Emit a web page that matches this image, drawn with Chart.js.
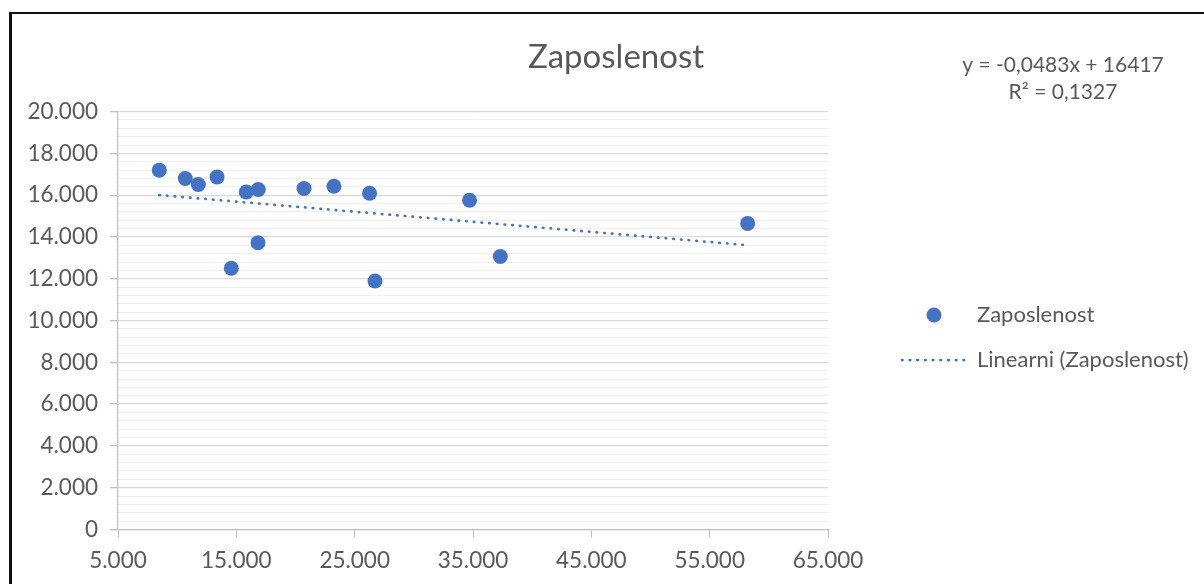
<!DOCTYPE html>
<html>
<head>
<meta charset="utf-8">
<script src="https://cdn.jsdelivr.net/npm/chart.js@4.4.1/dist/chart.umd.min.js"></script>
<style>
  html, body { margin: 0; padding: 0; background: #fff; overflow: hidden; }
  .frame {
    position: absolute; left: 9px; top: 12px;
    border-left: 3px solid #111; border-top: 2px solid #111;
    width: 1192px; height: 570px;
  }
  canvas { display: block; }
</style>
</head>
<body>
<div class="frame">
  <canvas id="myChart" width="1192" height="570"></canvas>
</div>
<script>
// podaci
const seriesName = 'Zaposlenost';
const trendName = 'Linearni (Zaposlenost)';
const xValues = [8490, 10690, 11790, 13370, 14575, 15840, 16860, 16830, 20720, 23250, 26260, 26720, 34710, 37310, 58210];
const yValues = [17197, 16798, 16510, 16875, 12500, 16154, 16269, 13721, 16317, 16428, 16091, 11894, 15755, 13063, 14649];
const xTicks = [5000, 15000, 25000, 35000, 45000, 55000, 65000];
const yTicks = [0, 2000, 4000, 6000, 8000, 10000, 12000, 14000, 16000, 18000, 20000];
const trendSlope = -0.0483;
const trendIntercept = 16417;
const equationLines = ['y = -0,0483x + 16417', 'R\u00b2 = 0,1327'];

const blue = '#4472C4';
const textColor = '#595959';
const font = 'Lato';

function fmt(v) {
  return String(v).replace(/\B(?=(\d{3})+(?!\d))/g, '.');
}

const points = xValues.map((x, i) => ({ x: x, y: yValues[i] }));
const xMin = Math.min(...xValues), xMax = Math.max(...xValues);
const trend = [xMin, xMax].map(x => ({ x: x, y: trendSlope * x + trendIntercept }));

// legend marker for the dots
const dot = document.createElement('canvas');
dot.width = 16; dot.height = 16;
const dctx = dot.getContext('2d');
dctx.fillStyle = blue;
dctx.beginPath(); dctx.arc(8, 8, 7.5, 0, Math.PI * 2); dctx.fill();

const equationPlugin = {
  id: 'equation',
  afterLayout(chart) {
    // legend sits further right than chart.js puts it
    const lg = chart.legend;
    const w = lg.width;
    lg.left = 867;
    lg.right = 867 + w;
  },
  afterDraw(chart) {
    const c = chart.ctx;
    c.save();
    c.fillStyle = textColor;
    c.font = '21px ' + font;
    c.textAlign = 'center';
    c.textBaseline = 'middle';
    c.fillText(equationLines[0], 1051, 51);
    c.fillText(equationLines[1], 1051, 78);
    c.restore();
  }
};

const ctx = document.getElementById('myChart').getContext('2d');
new Chart(ctx, {
  type: 'scatter',
  data: {
    datasets: [
      {
        label: seriesName,
        data: points,
        backgroundColor: blue,
        borderColor: blue,
        pointRadius: 7.5,
        pointBorderWidth: 0,
        pointHoverRadius: 7.5
      },
      {
        label: trendName,
        type: 'line',
        data: trend,
        borderColor: blue,
        borderWidth: 2.7,
        borderDash: [0.5, 7.2],
        borderCapStyle: 'round',
        pointRadius: 0,
        fill: false
      }
    ]
  },
  options: {
    responsive: false,
    animation: false,
    layout: { padding: { left: 16, right: 0, top: 0, bottom: 0 } },
    plugins: {
      title: {
        display: true,
        text: seriesName,
        color: textColor,
        font: { family: font, size: 33, weight: 'normal', lineHeight: 1.2 },
        padding: { top: 24, bottom: 34 }
      },
      legend: {
        position: 'right',
        fullSize: false,
        maxWidth: 400,
        title: { display: true, text: '', font: { size: 1, lineHeight: 1 }, padding: { top: 33, bottom: 0 } },
        labels: {
          usePointStyle: true,
          pointStyleWidth: 64,
          padding: 23,
          font: { family: font, size: 22 },
          color: textColor,
          generateLabels: () => [
            { text: seriesName, pointStyle: dot, fillStyle: blue, strokeStyle: blue, lineWidth: 0, fontColor: textColor, datasetIndex: 0, hidden: false },
            { text: trendName, pointStyle: 'line', fillStyle: blue, strokeStyle: blue, lineWidth: 2.7, lineDash: [0.5, 7.2], lineCap: 'round', fontColor: textColor, datasetIndex: 1, hidden: false }
          ]
        }
      },
      tooltip: { enabled: false }
    },
    scales: {
      x: {
        type: 'linear',
        min: xTicks[0],
        max: xTicks[xTicks.length - 1],
        afterBuildTicks: s => { s.ticks = xTicks.map(v => ({ value: v })); },
        afterFit: s => { s.paddingRight = 376; },
        ticks: {
          callback: v => fmt(v),
          color: textColor,
          font: { family: font, size: 22.5, lineHeight: 1.0 },
          padding: 12,
          maxRotation: 0,
          autoSkip: false
        },
        grid: { drawOnChartArea: false, drawTicks: true, tickLength: 8, tickColor: '#bfbfbf' },
        border: { color: '#bfbfbf', width: 1.2 }
      },
      y: {
        min: yTicks[0],
        max: yTicks[yTicks.length - 1],
        afterFit: s => { s.width = 90; },
        ticks: {
          stepSize: 400,
          autoSkip: false,
          callback: v => (yTicks.includes(v) ? fmt(v) : ''),
          color: textColor,
          font: { family: font, size: 22.5 },
          padding: 12
        },
        grid: {
          color: c => (c.tick && c.tick.value % 2000 === 0 ? '#d9d9d9' : '#f0f0f0'),
          lineWidth: c => (c.tick && c.tick.value % 2000 === 0 ? 1.3 : 1),
          tickLength: 8,
          tickColor: c => (c.tick && c.tick.value % 2000 === 0 ? '#bfbfbf' : 'rgba(0,0,0,0)')
        },
        border: { color: '#bfbfbf', width: 1.2 }
      }
    }
  },
  plugins: [equationPlugin]
});
</script>
</body>
</html>
